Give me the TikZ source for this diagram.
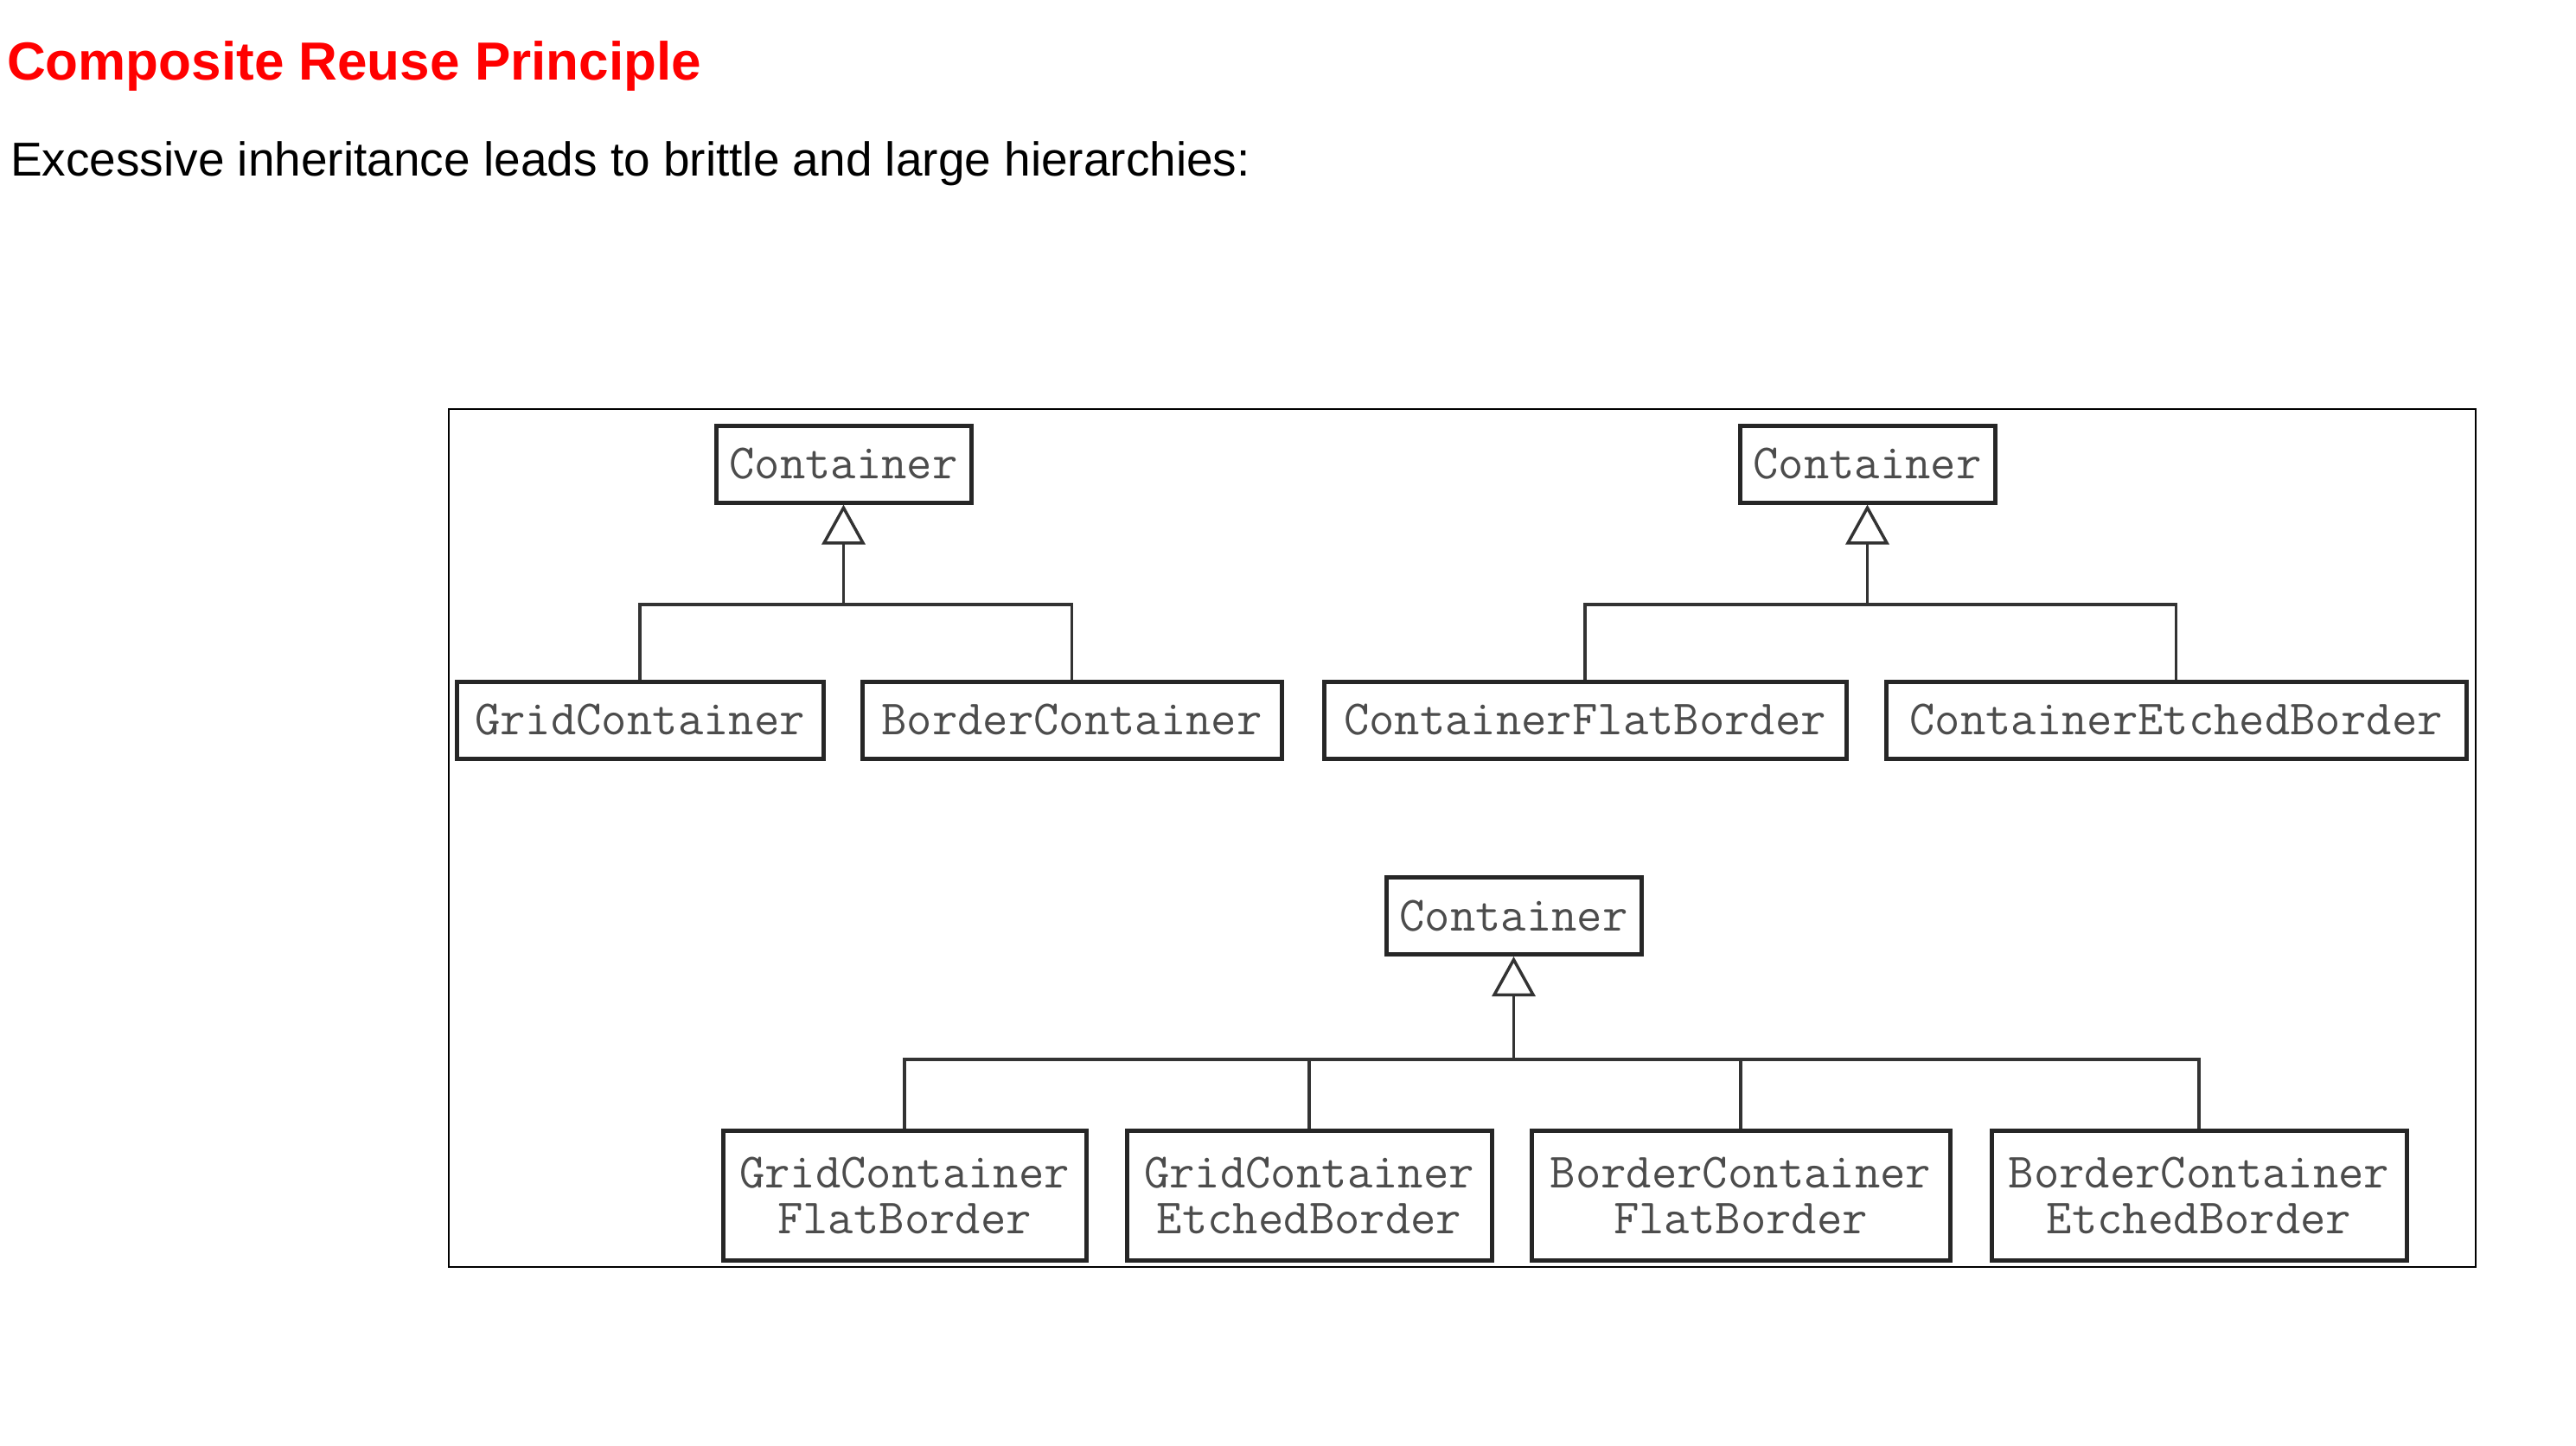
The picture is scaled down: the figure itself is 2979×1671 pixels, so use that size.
\documentclass[tikz,border=0pt]{standalone}
\usepackage{fontspec}
\setmainfont{Liberation Sans}
\usepackage{tikz}
\usetikzlibrary{arrows.meta,positioning}
\definecolor{slred}{RGB}{255,0,0}

\begin{document}
\begin{tikzpicture}[x=1pt,y=-1pt,
  cls/.style={draw=black!85,line width=5pt,fill=white,minimum height=89pt,inner sep=0pt,align=center,
    text=black!70,font=\fontsize{57}{53}\selectfont\ttfamily},
  cls2/.style={cls,minimum height=150pt},
  ln/.style={line width=3.5pt,draw=black!80},
  arr/.style={ln,-{Triangle[open,length=46pt,width=50pt]}}]
\useasboundingbox (0,0) rectangle (2979,1671);
% heading
\node[anchor=base west,inner sep=0pt,text=slred,font=\fontsize{62}{70}\selectfont\bfseries] (title) at (8,92) {Composite Reuse Principle};
\node[anchor=base west,inner sep=0pt,font=\fontsize{55}{62}\selectfont] (intro) at (12,203) {Excessive inheritance leads to brittle and large hierarchies:};
\draw[line width=2.5pt] (519,473) rectangle (2863,1465);
% LAYOUT
\node[cls,minimum width=295pt] (c1) at (975.5,536.5) {Container};
\node[cls,minimum width=424pt] (gc) at (740,832.5) {GridContainer};
\node[cls,minimum width=485pt] (bc) at (1239.5,832.5) {BorderContainer};
\coordinate (j1) at (975.5,699);
\draw[arr](j1)--(c1);
\draw[ln](gc.north)|-(j1)-|(bc.north);
% BORDER
\node[cls,minimum width=295pt] (c2) at (2159.5,536.5) {Container};
\node[cls,minimum width=604pt] (cfb) at (1833,832.5) {ContainerFlatBorder};
\node[cls,minimum width=671pt] (ceb) at (2516.5,832.5) {ContainerEtchedBorder};
\coordinate (j2) at (2159.5,699);
\draw[arr](j2)--(c2);
\draw[ln](cfb.north)|-(j2)-|(ceb.north);
% BOTH
\node[cls,minimum width=295pt] (c3) at (1750.5,1059) {Container};
\node[cls2,minimum width=420pt] (gcfb) at (1046,1382) {GridContainer\\FlatBorder};
\node[cls2,minimum width=422pt] (gceb) at (1514,1382) {GridContainer\\EtchedBorder};
\node[cls2,minimum width=484pt] (bcfb) at (2013,1382) {BorderContainer\\FlatBorder};
\node[cls2,minimum width=480pt] (bceb) at (2543,1382) {BorderContainer\\EtchedBorder};
\coordinate (j3) at (1750.5,1225);
\draw[arr](j3)--(c3);
\draw[ln](gcfb.north)|-(bceb.north|-j3)--(bceb.north);
\draw[ln](gceb.north)--(gceb.north|-j3);
\draw[ln](bcfb.north)--(bcfb.north|-j3);
\end{tikzpicture}
\end{document}
